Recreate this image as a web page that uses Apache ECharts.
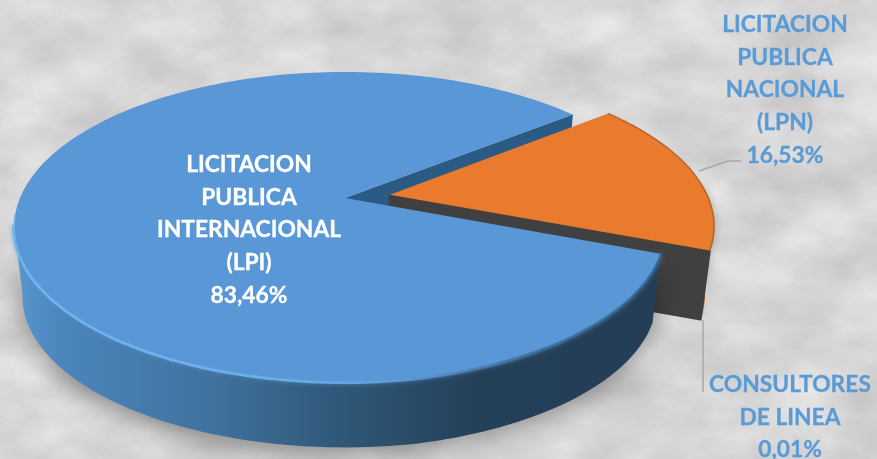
<!DOCTYPE html>
<html>
<head>
<meta charset="utf-8">
<style>
html,body{margin:0;padding:0;width:877px;height:459px;overflow:hidden;background-color:#dcdcdc;}
#bg{position:absolute;left:0;top:0;width:877px;height:459px;}
#chart{position:absolute;left:0;top:0;width:877px;height:459px;}
</style>
<script src="https://cdn.jsdelivr.net/npm/echarts@6/dist/echarts.min.js"></script>
</head>
<body>
<svg id="bg" xmlns="http://www.w3.org/2000/svg" width="877" height="459">
  <filter id="marble" x="0" y="0" width="100%" height="100%" color-interpolation-filters="sRGB">
    <feTurbulence type="fractalNoise" baseFrequency="0.012 0.02" numOctaves="5" seed="7"/>
    <feColorMatrix type="matrix" values="0.2 0 0 0 0.74  0.2 0 0 0 0.74  0.2 0 0 0 0.74  0 0 0 0 1"/>
  </filter>
  <rect width="877" height="459" filter="url(#marble)"/>
</svg>
<div id="chart"></div>
<script>
const categories = ['LICITACION PUBLICA INTERNACIONAL (LPI)', 'LICITACION PUBLICA NACIONAL (LPN)', 'CONSULTORES DE LINEA'];
const shares = [83.46, 16.53, 0.01];
const shareLabels = ['83,46%', '16,53%', '0,01%'];
const labelLinesLPI = ['LICITACION', 'PUBLICA', 'INTERNACIONAL', '(LPI)'];
const labelLinesLPN = ['LICITACION', 'PUBLICA', 'NACIONAL', '(LPN)'];
const labelLinesCL = ['CONSULTORES', 'DE LINEA'];

// layout of the tilted disc (perspective projection of a unit circle)
const view = {cx: 345, cy: 198, Rx: 325, Ry: 149.6, k: 0.187, lowerScale: 0.975, lowerDrop: 70};
const startDeg = 38.5;          // LPI starts here and runs counter-clockwise
const drawOrder = [0, 2, 1];    // order of the slices round the disc
const explode = 0.14;
const radii = [1, 0.98, 0.98];
const rad = d => d * Math.PI / 180;

function project(u, v, lower) {
  const w = 1 + view.k * v, s = lower ? view.lowerScale : 1;
  return [view.cx + view.Rx * u / w * s, view.cy - view.Ry * v / w * s + (lower ? view.lowerDrop : 0)];
}
const total = shares.reduce((a, b) => a + b, 0);
const spans = {};
let acc = startDeg;
drawOrder.forEach(i => { spans[i] = [acc, acc + shares[i] / total * 360]; acc = spans[i][1]; });
const midLPN = rad((spans[1][0] + spans[1][1]) / 2);
const offset = i => i === 0 ? [0, 0] : [explode * Math.cos(midLPN), explode * Math.sin(midLPN)];

function rimPoint(i, deg, lower) {
  const o = offset(i);
  // the front right of the large slice sits slightly inside the true circle
  const r = radii[i] - (i === 0 && deg > 280 ? 0.028 * (deg - 280) / 59 : 0);
  return project(o[0] + r * Math.cos(rad(deg)), o[1] + r * Math.sin(rad(deg)), lower);
}
function apex(i, lower) { const o = offset(i); return project(o[0], o[1], lower); }
function arc(i, a, b, lower) {
  const n = Math.max(2, Math.ceil(Math.abs(b - a) / 1.5)), out = [];
  for (let j = 0; j <= n; j++) out.push(rimPoint(i, a + (b - a) * j / n, lower));
  return out;
}
function poly(points, style, z2) { return {type: 'polygon', shape: {points}, style, z2, silent: true}; }
function lin(stops) { return {type: 'linear', x: 0, y: 0, x2: 1, y2: 0, colorStops: stops.map(s => ({offset: s[0], color: s[1]}))}; }

function renderItem(params, api) {
  const i = api.value(0), a = spans[i][0], b = spans[i][1], children = [];
  if (i === 0) {
    // cut face seen in the gap, front wall, top face, rim highlight
    children.push(poly([apex(0), rimPoint(0, a), rimPoint(0, a, true), apex(0, true)], {fill: '#2b5a85'}, 1));
    const wallTop = arc(0, 190, b), wallLow = arc(0, 190, b, true).reverse();
    children.push(poly(wallTop.concat(wallLow), {
      fill: lin([[0, '#5a97d0'], [0.07, '#4b86bd'], [0.3, '#41729f'], [0.5, '#2f5878'], [0.72, '#243f58'], [1, '#233e56']]),
      shadowBlur: 26, shadowColor: 'rgba(0,0,0,0.38)', shadowOffsetY: 6
    }, 5));
    children.push(poly([apex(0)].concat(arc(0, a, b)), {fill: '#5a97d6'}, 7));
    children.push({type: 'polyline', z2: 6, silent: true, shape: {points: arc(0, 190, b)}, style: {
      fill: null, lineWidth: 4, lineCap: 'butt', shadowBlur: 4, shadowColor: 'rgba(90,150,210,0.7)',
      stroke: lin([[0, '#72b6f0'], [0.35, '#6db2ee'], [0.55, '#62a4de'], [0.75, 'rgba(70,120,165,0.9)'], [1, 'rgba(50,95,135,0.8)']])
    }});
    children.push({type: 'polyline', z2: 8, silent: true, shape: {points: arc(0, 186, b)}, style: {
      fill: null, lineWidth: 1.5, lineCap: 'butt',
      stroke: lin([[0, '#6fb2ec'], [0.4, '#6aaee8'], [0.6, '#5b9bd5'], [0.8, 'rgba(60,110,155,0.8)'], [1, 'rgba(60,110,155,0.6)']])
    }});
  } else if (i === 1) {
    children.push(poly(arc(1, a, a + 26).concat(arc(1, a, a + 26, true).reverse()),
      {fill: lin([[0, '#a8561a'], [1, '#c96a22']]), shadowBlur: 10, shadowColor: 'rgba(0,0,0,0.25)'}, 2));
    children.push(poly([apex(1)].concat(arc(1, a, b)), {fill: '#ea7a2d'}, 4));
    children.push({type: 'polyline', z2: 4, silent: true, shape: {points: arc(1, a, b)}, style: {fill: null, stroke: 'rgba(165,85,30,0.75)', lineWidth: 1.5}});
  } else {
    // the 0,01 % sliver: its cut face is the dark plane under the LPN slice
    children.push(poly([apex(2), rimPoint(2, a), rimPoint(2, a, true), apex(2, true)],
      {fill: '#404040', stroke: '#404040', lineWidth: 2, lineJoin: 'round'}, 3));
  }
  return {type: 'group', children};
}

const label = (lines, share, x, y, color) => ({
  type: 'text', z: 20, silent: true,
  style: {text: lines.concat(share).join('\n'), x, y, align: 'center', verticalAlign: 'top',
    font: 'bold 22.8px Lato', lineHeight: 32.8, fill: color, stroke: color, lineWidth: 0.3}
});
const leader = points => ({type: 'polyline', z: 15, silent: true, shape: {points},
  style: {fill: null, stroke: '#a8a8a8', lineWidth: 1.5}});

const chart = echarts.init(document.getElementById('chart'), null, {renderer: 'canvas'});
chart.setOption({
  backgroundColor: 'transparent',
  animation: false,
  series: [{
    type: 'custom', coordinateSystem: 'none', renderItem,
    data: shares.map((v, i) => ({name: categories[i], value: [i, v]}))
  }],
  graphic: {elements: [
    leader([[699, 171], [728, 161], [741, 161]]),
    leader([[703, 320], [703, 392]]),
    label(labelLinesLPI, shareLabels[0], 249, 148, '#ffffff'),
    label(labelLinesLPN, shareLabels[1], 785, 8, '#5b9bd5'),
    label(labelLinesCL, shareLabels[2], 790, 368, '#5b9bd5')
  ]}
});
</script>
</body>
</html>
